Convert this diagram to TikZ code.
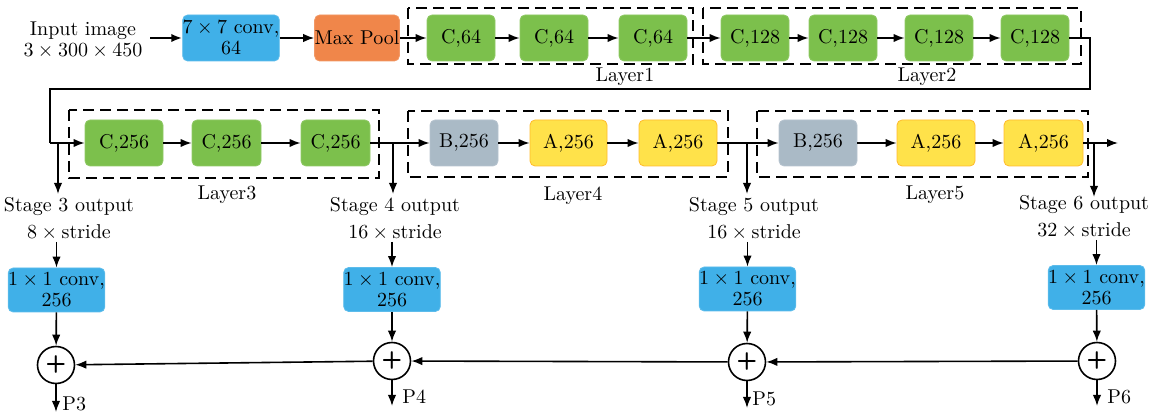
\documentclass[tikz,border=0pt]{standalone}
\usetikzlibrary{arrows.meta}
\definecolor{cblue}{RGB}{64,176,232}
\definecolor{corange}{RGB}{240,134,74}
\definecolor{cgreen}{RGB}{124,192,76}
\definecolor{cgray}{RGB}{170,186,198}
\definecolor{cyellow}{RGB}{255,226,74}
\begin{document}
\begin{tikzpicture}[x=0.5pt,y=-0.5pt,
  txt/.style={font=\fontsize{10}{10.5}\selectfont, align=center, inner sep=0pt},
  box/.style={txt, rounded corners=2.5pt, minimum height=23pt},
  bluebox/.style={box, fill=cblue, draw=cblue!85!white},
  orangebox/.style={box, fill=corange, draw=corange!85!white},
  greenbox/.style={box, fill=cgreen, draw=cgreen!85!white},
  graybox/.style={box, fill=cgray, draw=cgray!85!white},
  yellowbox/.style={box, fill=cyellow, draw=orange!40!cyellow},
  arr/.style={-{Latex[length=5.5pt,width=4.2pt]}, line width=0.8pt},
  line/.style={line width=0.8pt},
  grp/.style={draw, line width=1.2pt, dash pattern=on 5.5pt off 3pt},
  plus/.style={circle, draw, line width=0.8pt, fill=white, minimum size=18.5pt, inner sep=0pt, font=\sffamily\bfseries\fontsize{12}{12}\selectfont}
]
\useasboundingbox (0,0) rectangle (1157,416);

% ---- row 1 ----
\node[txt] (in) at (83,40) {Input image\\$3\times300\times450$};
\coordinate (ins) at (150,38);
\node[bluebox, minimum width=46pt] (conv7) at (231,38) {$7\times7$ conv,\\64};
\node[orangebox, minimum width=39pt] (mp) at (357,38) {Max Pool};
\node[greenbox, minimum width=34pt] (a1) at (461,38) {C,64};
\node[greenbox, minimum width=34pt] (a2) at (554,38) {C,64};
\node[greenbox, minimum width=34pt] (a3) at (653,38) {C,64};
\node[greenbox, minimum width=34pt] (b1) at (755,38) {C,128};
\node[greenbox, minimum width=34pt] (b2) at (843,38) {C,128};
\node[greenbox, minimum width=34pt] (b3) at (939,38) {C,128};
\node[greenbox, minimum width=34pt] (b4) at (1035,38) {C,128};
\draw[grp] (408,8) rectangle (693,64);
\draw[grp] (703,8) rectangle (1081,64);
\node[txt] (lay1) at (625,77) {Layer1};
\node[txt] (lay2) at (927,77) {Layer2};

\draw[arr, line width=1.4pt] (ins) -- (conv7);
\draw[arr] (conv7) -- (mp);
\draw[arr] (mp) -- (a1);
\draw[arr] (a1) -- (a2);
\draw[arr] (a2) -- (a3);
\draw[arr] (a3) -- (b1);
\draw[arr] (b1) -- (b2);
\draw[arr] (b2) -- (b3);
\draw[arr] (b3) -- (b4);

% ---- row 2 ----
\node[greenbox, minimum width=39pt] (c1) at (124,143) {C,256};
\node[greenbox, minimum width=34.5pt] (c2) at (226.5,143) {C,256};
\node[greenbox, minimum width=34.5pt] (c3) at (335.5,143) {C,256};
\node[graybox, minimum width=34pt] (d1) at (464,143) {B,256};
\node[yellowbox, minimum width=38.5pt] (d2) at (568.5,143) {A,256};
\node[yellowbox, minimum width=39pt] (d3) at (678,143) {A,256};
\node[graybox, minimum width=39pt] (e1) at (818,143) {B,256};
\node[yellowbox, minimum width=39pt] (e2) at (936,143) {A,256};
\node[yellowbox, minimum width=39.5pt] (e3) at (1043.5,143) {A,256};
\draw[grp] (69,110) rectangle (379,178);
\draw[grp] (408,111) rectangle (728,177);
\draw[grp] (757,111) rectangle (1088,177);
\node[txt] (lay3) at (227,195) {Layer3};
\node[txt] (lay4) at (573,196) {Layer4};
\node[txt] (lay5) at (935,195) {Layer5};

\coordinate (r1) at (1090,38);
\coordinate (r2) at (1090,89);
\coordinate (r3) at (50,89);
\coordinate (r4) at (50,143);
\draw[line] (b4.east) -- (r1) -- (r2) -- (r3) -- (r4);
\draw[arr] (r4) -- (c1);
\draw[arr] (c1) -- (c2);
\draw[arr] (c2) -- (c3);
\draw[arr] (c3) -- (d1);
\draw[arr] (d1) -- (d2);
\draw[arr] (d2) -- (d3);
\draw[arr] (d3) -- (e1);
\draw[arr] (e1) -- (e2);
\draw[arr] (e2) -- (e3);
\coordinate (out) at (1118,143);
\draw[arr] (e3) -- (out);

% ---- stage taps ----
\coordinate (t3) at (58,143);
\coordinate (t4) at (393,143);
\coordinate (t5) at (747,143);
\coordinate (t6) at (1094,143);
\node[txt, align=center] (s3) at (69,219) {Stage 3 output\\[3pt]$8\times{}$stride};
\node[txt, align=center] (s4) at (395,219) {Stage 4 output\\[3pt]$16\times{}$stride};
\node[txt, align=center] (s5) at (754,219) {Stage 5 output\\[3pt]$16\times{}$stride};
\node[txt, align=center] (s6) at (1084,217) {Stage 6 output\\[3pt]$32\times{}$stride};
\draw[arr] (t3) -- (58,194);
\draw[arr] (t4) -- (393,194);
\draw[arr] (t5) -- (747,194);
\draw[arr] (t6) -- (1094,197);

% ---- 1x1 conv ----
\node[bluebox, minimum width=45.5pt, minimum height=22pt] (k3) at (56.5,290) {$1\times1$ conv,\\256};
\node[bluebox, minimum width=45pt, minimum height=22pt] (k4) at (392,289.5) {$1\times1$ conv,\\256};
\node[bluebox, minimum width=45.5pt, minimum height=22pt] (k5) at (747.5,289) {$1\times1$ conv,\\256};
\node[bluebox, minimum width=46.5pt, minimum height=22pt] (k6) at (1096.5,287.5) {$1\times1$ conv,\\256};
\draw[arr] (k3.north |- 0,242) -- (k3.north);
\draw[arr] (k4.north |- 0,242) -- (k4.north);
\draw[arr] (k5.north |- 0,242) -- (k5.north);
\draw[arr] (k6.north |- 0,240) -- (k6.north);

% ---- sums ----
\node[plus] (p3) at (56,365) {+};
\node[plus] (p4) at (392,361) {+};
\node[plus] (p5) at (747,362) {+};
\node[plus] (p6) at (1097,361) {+};
\draw[arr] (k3) -- (p3);
\draw[arr] (k4) -- (p4);
\draw[arr] (k5) -- (p5);
\draw[arr] (k6) -- (p6);
\draw[arr] (p6) -- (p5);
\draw[arr] (p5) -- (p4);
\draw[arr] (p4) -- (p3);

\coordinate (o3) at (56,412);
\coordinate (o4) at (392,406);
\coordinate (o5) at (747,408);
\coordinate (o6) at (1097,406);
\draw[arr] (p3) -- (o3);
\draw[arr] (p4) -- (o4);
\draw[arr] (p5) -- (o5);
\draw[arr] (p6) -- (o6);
\node[txt, anchor=west] (P3) at (62,404) {P3};
\node[txt, anchor=west] (P4) at (402,397) {P4};
\node[txt, anchor=west] (P5) at (752,399) {P5};
\node[txt, anchor=west] (P6) at (1107,397) {P6};
\end{tikzpicture}
\end{document}
